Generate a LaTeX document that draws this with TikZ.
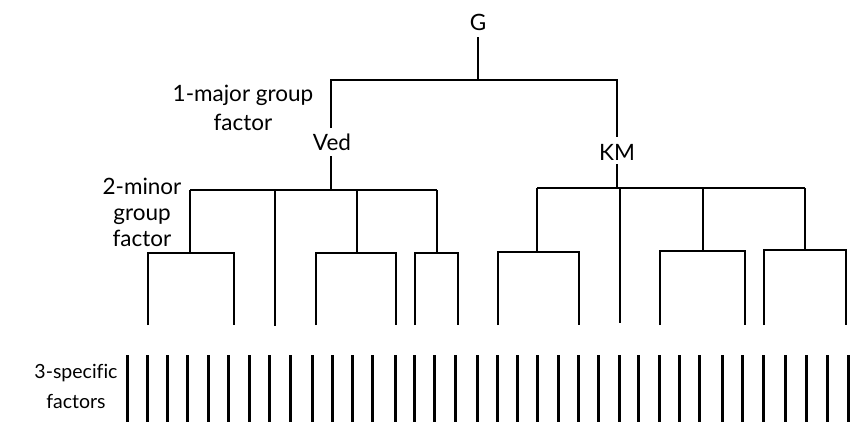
\documentclass[tikz,border=0pt]{standalone}
\usepackage{fontspec}
\setmainfont{Lato}[Ligatures=CommonOff]
\begin{document}
\begin{tikzpicture}[x=1pt,y=-1pt,
  lbl/.style={inner sep=0pt, font=\fontsize{22.5}{29}\selectfont, align=center},
  br/.style={line width=2.9pt, line cap=butt},
  spec/.style={line width=3pt}]
\useasboundingbox (0,0) rectangle (865,424);
% top labels
\node[lbl] (G) at (478,22) {G};
\node[lbl] (Ved) at (332,142) {Ved};
\node[lbl] (KM) at (617,152) {KM};
\node[lbl] (lab1) at (243,108) {1-major group\\factor};
\node[lbl, font=\fontsize{22.5}{26}\selectfont] (lab2) at (142,212) {2-minor\\group\\factor};
\node[lbl, font=\fontsize{19.5}{30}\selectfont] (lab3) at (76,386) {3-specific\\factors};
% junction coordinates
\coordinate (g0) at (478,37);
\coordinate (g1) at (478,80);
\coordinate (gl) at (331,80);
\coordinate (gr) at (617,80);
\coordinate (v0) at (331,128);
\coordinate (v1) at (331,156);
\coordinate (v2) at (331,190);
\coordinate (k0) at (617,137);
\coordinate (k1) at (617,164);
\coordinate (k2) at (617,188);
\draw[br] (g0) -- (g1);
\draw[br] (v0) -- (gl) -- (gr) -- (k0);
\draw[br] (v1) -- (v2);
\draw[br] (k1) -- (k2);
% Ved bar
\coordinate (va) at (190,190);
\coordinate (vb) at (275,190);
\coordinate (vc) at (357,190);
\coordinate (vd) at (437,190);
\draw[br] (va) -- (vd);
\coordinate (vaj) at (190,253);
\coordinate (vbj) at (275,326);
\coordinate (vcj) at (357,253);
\coordinate (vdj) at (437,253);
\draw[br] (va) -- (vaj);
\draw[br] (vb) -- (vbj);
\draw[br] (vc) -- (vcj);
\draw[br] (vd) -- (vdj);
% KM bar
\coordinate (ka) at (537,188);
\coordinate (kb) at (620,188);
\coordinate (kc) at (703,188);
\coordinate (kd) at (805,188);
\draw[br] (ka) -- (kd);
\coordinate (kaj) at (537,252);
\coordinate (kbj) at (620,323);
\coordinate (kcj) at (703,251);
\coordinate (kdj) at (805,250);
\draw[br] (ka) -- (kaj);
\draw[br] (kb) -- (kbj);
\draw[br] (kc) -- (kcj);
\draw[br] (kd) -- (kdj);
% minor branches: junction y, left x, right x
\foreach \n/\y/\l/\r in {a/253/148/234, c/253/316/396, d/253/415/458,
                         e/252/498/579, f/251/660/745, g/250/764/846}{
  \coordinate (m\n l) at (\l,\y);
  \coordinate (m\n r) at (\r,\y);
  \coordinate (m\n lb) at (\l,325);
  \coordinate (m\n rb) at (\r,325);
  \draw[br] (m\n lb) -- (m\n l) -- (m\n r) -- (m\n rb);
}
% specific factors
\foreach \x [count=\i] in {127,147,167,187,208,228,249,269,290,312,332,352,372,395,414,434,455,477,497,517,537,558,578,598,619,638,659,679,699,722,742,763,785,806,827,848}{
  \coordinate (s\i t) at (\x,355);
  \coordinate (s\i b) at (\x,422);
  \draw[spec] (s\i t) -- (s\i b);
}
\end{tikzpicture}
\end{document}
